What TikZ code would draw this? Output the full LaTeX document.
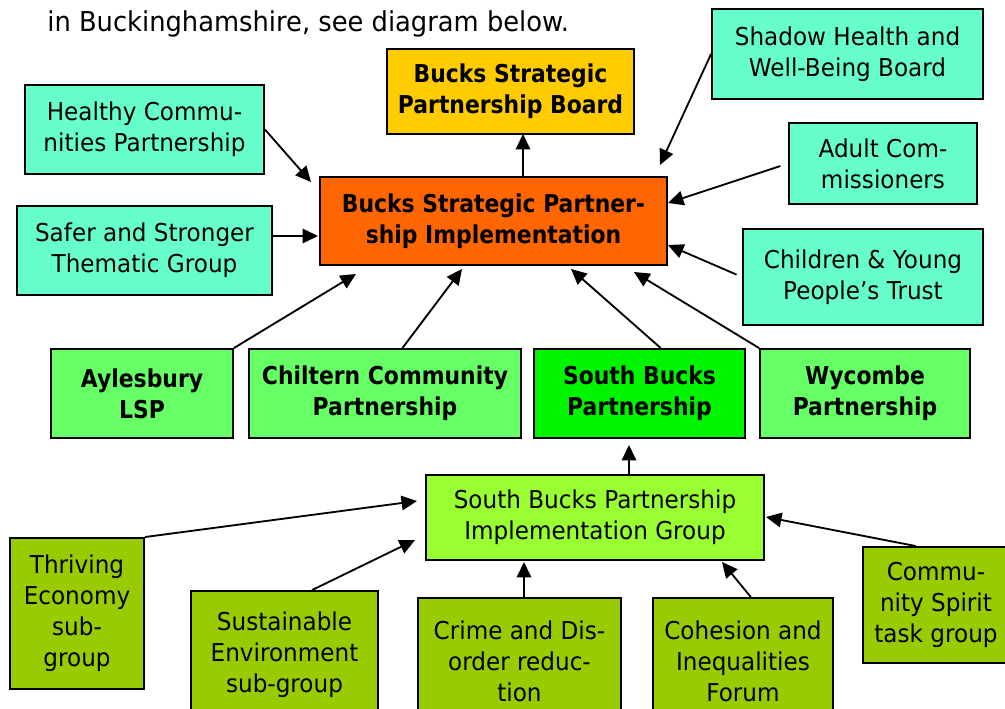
\documentclass[tikz,border=0pt]{standalone}
\usepackage{fontspec}
\setmainfont{DejaVu Sans}[FakeStretch=0.94,BoldFeatures={FakeStretch=0.89}]
\usetikzlibrary{shapes,arrows.meta}

\definecolor{tealbox}{HTML}{66FFCC}
\definecolor{boardyellow}{HTML}{FFCC00}
\definecolor{implorange}{HTML}{FF6600}
\definecolor{lspgreen}{HTML}{66FF66}
\definecolor{sbgreen}{HTML}{00F400}
\definecolor{groupgreen}{HTML}{99FF33}
\definecolor{subgreen}{HTML}{99CC00}

\begin{document}
\begin{tikzpicture}[x=0.02cm,y=-0.02cm,
        box/.style={draw=black,line width=1.1pt,align=center,inner sep=1pt,
            font=\fontsize{14}{17.6}\selectfont},
        boldbox/.style={box,font=\fontsize{14}{17.6}\selectfont\bfseries},
        link/.style={line width=1.05pt,-{Triangle[length=3.1mm,width=2.9mm]}}
    ]
    \useasboundingbox (0,0) rectangle (1005,709);

    \node[anchor=base west,inner sep=0pt,font=\fontsize{15.6}{18}\selectfont] (intro) at (47,32) {in Buckinghamshire, see diagram below.};

    \node[boldbox,fill=boardyellow,minimum width=4.94cm,minimum height=1.7cm] (BSPB) at (510.5,91.5) {Bucks Strategic\\Partnership Board};
    \node[boldbox,fill=implorange,minimum width=6.94cm,minimum height=1.76cm] (BSPI) at (493.5,221) {Bucks Strategic Partner-\\ship Implementation};

    \node[box,fill=tealbox,minimum width=4.78cm,minimum height=1.78cm] (HCP) at (144.5,129.5) {Healthy Commu-\\nities Partnership};
    \node[box,fill=tealbox,minimum width=5.1cm,minimum height=1.78cm] (SSG) at (144.5,250.5) {Safer and Stronger\\Thematic Group};
    \node[box,fill=tealbox,minimum width=5.42cm,minimum height=1.8cm] (SHWB) at (847.5,54) {Shadow Health and\\Well-Being Board};
    \node[box,fill=tealbox,minimum width=3.76cm,minimum height=1.62cm] (AC) at (883,163.5) {Adult Com-\\missioners};
    \node[box,fill=tealbox,minimum width=4.8cm,minimum height=1.92cm] (CYP) at (863,277) {Children \& Young\\People’s Trust};

    \node[boldbox,fill=lspgreen,minimum width=3.64cm,minimum height=1.78cm] (ALSP) at (142,393.5) {Aylesbury\\LSP};
    \node[boldbox,fill=lspgreen,minimum width=5.44cm,minimum height=1.78cm] (CCP) at (385,393.5) {Chiltern Community\\Partnership};
    \node[boldbox,fill=sbgreen,minimum width=4.22cm,minimum height=1.78cm] (SBP) at (639.5,393.5) {South Bucks\\Partnership};
    \node[boldbox,fill=lspgreen,minimum width=4.2cm,minimum height=1.78cm] (WP) at (865,393.5) {Wycombe\\Partnership};

    \node[box,fill=groupgreen,minimum width=6.76cm,minimum height=1.7cm] (SBIG) at (595,517.5) {South Bucks Partnership\\Implementation Group};

    \node[box,fill=subgreen,minimum width=2.68cm,minimum height=3.02cm] (TE) at (77,613.5) {Thriving\\Economy\\sub-\\group};
    \node[box,fill=subgreen,minimum width=3.74cm,minimum height=2.56cm] (SE) at (284.5,655) {Sustainable\\Environment\\sub-group};
    \node[box,fill=subgreen,minimum width=4.06cm,minimum height=2.52cm] (CD) at (519.5,661) {Crime and Dis-\\order reduc-\\tion};
    \node[box,fill=subgreen,minimum width=3.6cm,minimum height=2.52cm] (CIF) at (743,661) {Cohesion and\\Inequalities\\Forum};
    \node[box,fill=subgreen,minimum width=2.92cm,minimum height=2.32cm] (CS) at (936,605) {Commu-\\nity Spirit\\task group};

    % arrow tips that stop short of a box
    \coordinate (tB) at (523,134);
    \coordinate (tH) at (311,182);
    \coordinate (tS) at (318,236);
    \coordinate (tSH) at (660,165);
    \coordinate (tA) at (668,203);
    \coordinate (tC) at (668,245);
    \coordinate (tW) at (634,272);
    \coordinate (tSB) at (571,269);
    \coordinate (tCC) at (462,269);
    \coordinate (tAy) at (356,274);
    \coordinate (tSBP) at (629,445);
    \coordinate (tT) at (417,501);
    \coordinate (tSE) at (415,540);
    \coordinate (tCD) at (524,562);
    \coordinate (tCI) at (722,562);
    \coordinate (tCS) at (766,517);

    \draw[link] (BSPI.north -| tB) to (tB);
    \draw[link] (HCP.east) to (tH);
    \draw[link] (SSG.east |- tS) to (tS);
    \draw[link] (SHWB.west) to (tSH);
    \draw[link,shorten <=0.16cm] (AC.west) to (tA);
    \draw[link,shorten <=0.12cm] (CYP.west) to (tC);
    \draw[link] (WP.north west) to (tW);
    \draw[link] (SBP.65) to (tSB);
    \draw[link] (CCP.69) to (tCC);
    \draw[link] (ALSP.north east) to (tAy);

    \draw[link] (SBIG.north -| tSBP) to (tSBP);
    \draw[link] (TE.north east) to (tT);
    \draw[link] (SE.67) to (tSE);
    \draw[link] (CD.north -| tCD) to (tCD);
    \draw[link] (CIF.83) to (tCI);
    \draw[link] (CS.109) to (tCS);

\end{tikzpicture}
\end{document}
